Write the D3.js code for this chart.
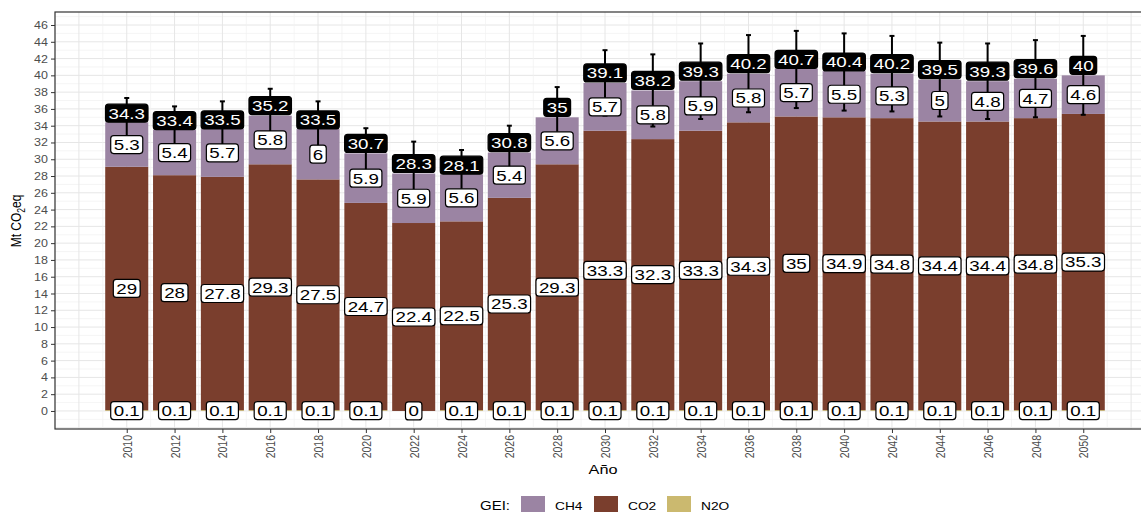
<!DOCTYPE html>
<html>
<head>
<meta charset="utf-8">
<script src="https://cdn.jsdelivr.net/npm/d3@7"></script>
<style>
  html, body { margin: 0; padding: 0; background: #fff; }
  svg { display: block; font-family: "Liberation Sans", Arial, sans-serif; }
</style>
</head>
<body>
<svg id="chart"></svg>
<script>
// data
const years = [2010, 2012, 2014, 2016, 2018, 2020, 2022, 2024, 2026, 2028, 2030,
  2032, 2034, 2036, 2038, 2040, 2042, 2044, 2046, 2048, 2050];
const n2o = [0.1, 0.1, 0.1, 0.1, 0.1, 0.1, 0, 0.1, 0.1, 0.1, 0.1,
  0.1, 0.1, 0.1, 0.1, 0.1, 0.1, 0.1, 0.1, 0.1, 0.1];
const co2 = [29, 28, 27.8, 29.3, 27.5, 24.7, 22.4, 22.5, 25.3, 29.3, 33.3,
  32.3, 33.3, 34.3, 35, 34.9, 34.8, 34.4, 34.4, 34.8, 35.3];
const ch4 = [5.3, 5.4, 5.7, 5.8, 6, 5.9, 5.9, 5.6, 5.4, 5.6, 5.7,
  5.8, 5.9, 5.8, 5.7, 5.5, 5.3, 5, 4.8, 4.7, 4.6];
const totals = [34.3, 33.4, 33.5, 35.2, 33.5, 30.7, 28.3, 28.1, 30.8, 35, 39.1,
  38.2, 39.3, 40.2, 40.7, 40.4, 40.2, 39.5, 39.3, 39.6, 40];
const errors = [3.0, 2.9, 3.4, 3.2, 3.4, 3.0, 3.8, 3.0, 3.2, 3.6, 3.9,
  4.3, 4.5, 4.6, 4.6, 4.6, 4.5, 4.4, 4.5, 4.6, 4.7];
const yTicks = d3.range(0, 47, 2);
const gases = ['CH4', 'CO2', 'N2O'];
const gasColors = ['#9b84a3', '#7a3e2d', '#cbb96f'];

const width = 1141;
const height = 512;
const SX = 1.25; // picture text is stretched sideways

const svg = d3.select('#chart').attr('width', width).attr('height', height);

const x = d3.scaleLinear().domain([2007, 2053]).range([55, 1155]);
const y = d3.scaleLinear().domain([-2.15, 47.55]).range([429, 12]);
const color = d3.scaleOrdinal().domain(gases).range(gasColors);

// grid
const grid = svg.append('g');
d3.range(-2, 48).forEach(v => {
  grid.append('line')
    .attr('x1', 55).attr('x2', 1155)
    .attr('y1', y(v)).attr('y2', y(v))
    .attr('stroke', v % 2 === 0 ? '#e6e6e6' : '#f1f1f1')
    .attr('stroke-width', v % 2 === 0 ? 1 : 0.7);
});
d3.range(2007, 2054).forEach(v => {
  grid.append('line')
    .attr('y1', 12).attr('y2', 429)
    .attr('x1', x(v)).attr('x2', x(v))
    .attr('stroke', v % 2 === 0 ? '#e6e6e6' : '#f1f1f1')
    .attr('stroke-width', v % 2 === 0 ? 1 : 0.7);
});

// stacked bars
const rows = years.map((yr, i) => ({
  year: yr, N2O: n2o[i], CO2: co2[i], CH4: ch4[i], total: totals[i], err: errors[i],
}));
const stack = d3.stack().keys(['N2O', 'CO2', 'CH4'])(rows);
const bw = x(2010.9) - x(2009.1);

svg.append('g')
  .selectAll('g')
  .data(stack)
  .join('g')
  .attr('fill', d => color(d.key))
  .selectAll('rect')
  .data(d => d)
  .join('rect')
  .attr('x', d => x(d.data.year) - bw / 2)
  .attr('width', bw)
  .attr('y', d => y(d[1]))
  .attr('height', d => Math.max(0, y(d[0]) - y(d[1])));

// error bars
const eb = svg.append('g').attr('stroke', '#000').attr('stroke-width', 2);
rows.forEach(d => {
  const cx = x(d.year);
  eb.append('line').attr('x1', cx).attr('x2', cx)
    .attr('y1', y(d.total + d.err)).attr('y2', y(d.total - d.err));
  [d.total + d.err, d.total - d.err].forEach(v => {
    eb.append('line').attr('x1', cx - 2.5).attr('x2', cx + 2.5)
      .attr('y1', y(v)).attr('y2', y(v));
  });
});

// label helper: rounded box with text centred on (cx, cy)
const labels = svg.append('g');
function boxLabel(cx, cy, txt, dark) {
  const g = labels.append('g');
  const rect = g.append('rect');
  const t = g.append('text')
    .attr('transform', `translate(${cx},${cy}) scale(${SX},1)`)
    .attr('text-anchor', 'middle')
    .attr('dy', '0.36em')
    .attr('font-size', 15)
    .attr('fill', dark ? '#fff' : '#000')
    .text(txt);
  const w = t.node().getComputedTextLength() * SX + 6;
  const h = 18;
  rect.attr('x', cx - w / 2).attr('y', cy - h / 2)
    .attr('width', w).attr('height', h)
    .attr('rx', 3).attr('ry', 3)
    .attr('fill', dark ? '#000' : '#fff')
    .attr('stroke', '#000').attr('stroke-width', 1.2);
}

rows.forEach(d => {
  const cx = x(d.year);
  boxLabel(cx, y(d.N2O / 2), String(d.N2O), false);
  boxLabel(cx, y(d.N2O + d.CO2 / 2), String(d.CO2), false);
  boxLabel(cx, y(d.N2O + d.CO2 + d.CH4 / 2), String(d.CH4), false);
  boxLabel(cx, y(d.total) - 10, String(d.total), true);
});

// panel border
svg.append('rect')
  .attr('x', 55).attr('y', 12)
  .attr('width', 1100).attr('height', 417)
  .attr('fill', 'none').attr('stroke', '#333').attr('stroke-width', 1.2);

// y axis
const yAxis = svg.append('g')
  .attr('transform', 'translate(55,0)')
  .call(d3.axisLeft(y).tickValues(yTicks).tickSize(4).tickSizeOuter(0));
yAxis.select('.domain').remove();
yAxis.selectAll('line').attr('stroke', '#333');
yAxis.selectAll('text')
  .attr('x', null).attr('dy', '0.35em')
  .attr('transform', `translate(-7,0) scale(${SX},1)`)
  .attr('font-size', 10)
  .attr('font-family', '"Liberation Sans", Arial, sans-serif')
  .attr('fill', '#4d4d4d');

// x axis
const xAxis = svg.append('g')
  .attr('transform', 'translate(0,429)')
  .call(d3.axisBottom(x).tickValues(years).tickFormat(d3.format('d')).tickSize(4).tickSizeOuter(0));
xAxis.select('.domain').remove();
xAxis.selectAll('line').attr('stroke', '#333');
xAxis.selectAll('text')
  .attr('y', null).attr('dy', '0.35em')
  .attr('text-anchor', 'end')
  .attr('transform', `translate(0,6) rotate(-90) scale(1,${SX})`)
  .attr('font-size', 10.5)
  .attr('font-family', '"Liberation Sans", Arial, sans-serif')
  .attr('fill', '#4d4d4d');

// axis titles
svg.append('text')
  .attr('transform', `translate(603,474) scale(${SX},1)`)
  .attr('text-anchor', 'middle')
  .attr('font-size', 13)
  .text('Año');

const yt = svg.append('text')
  .attr('transform', `translate(21,221) rotate(-90) scale(1,${SX})`)
  .attr('text-anchor', 'middle')
  .attr('font-size', 12);
yt.append('tspan').text('Mt CO');
yt.append('tspan').attr('font-size', 8.5).attr('dy', 3).text('2');
yt.append('tspan').attr('dy', -3).text('eq');

// legend
const leg = svg.append('g');
leg.append('text')
  .attr('transform', `translate(480,510) scale(${SX},1)`)
  .attr('font-size', 12)
  .text('GEI:');
const legX = [521, 594, 667];
gases.forEach((k, i) => {
  leg.append('rect')
    .attr('x', legX[i]).attr('y', 496)
    .attr('width', 24).attr('height', 17)
    .attr('fill', color(k));
  leg.append('text')
    .attr('transform', `translate(${legX[i] + 34},510) scale(${SX},1)`)
    .attr('font-size', 11)
    .text(k);
});
</script>
</body>
</html>
